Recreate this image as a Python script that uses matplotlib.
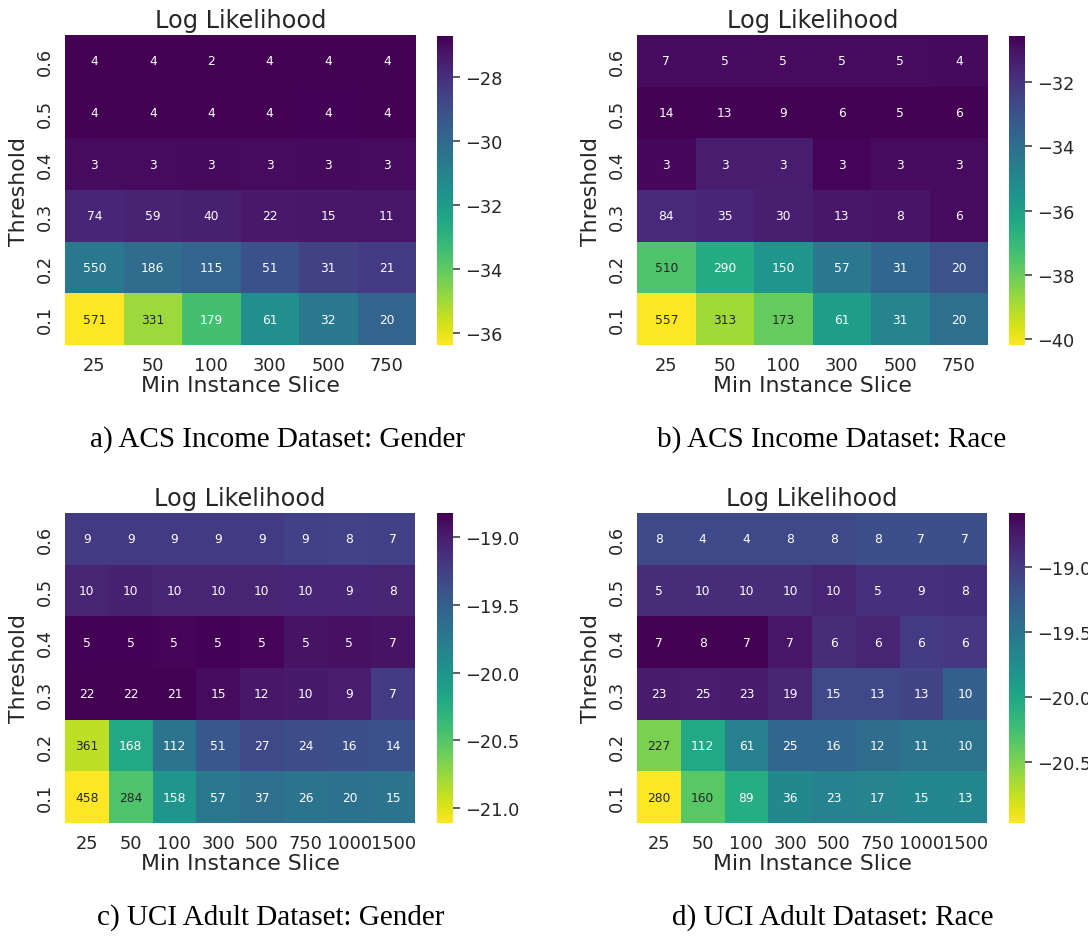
import numpy as np
import seaborn as sns
from matplotlib import pyplot as plt

THRESH = ["0.6", "0.5", "0.4", "0.3", "0.2", "0.1"]
SLICE_ACS = ["25", "50", "100", "300", "500", "750"]
SLICE_UCI = ["25", "50", "100", "300", "500", "750", "1000", "1500"]

# log likelihood (colour) and number of slices (annotation), rows from 0.6 down to 0.1
ll_acs_gender = [
    [-26.72, -26.72, -26.74, -26.72, -26.73, -26.72],
    [-26.75, -26.74, -26.75, -26.74, -26.76, -26.75],
    [-27.00, -27.00, -26.98, -27.00, -26.95, -27.00],
    [-27.75, -27.65, -27.55, -27.35, -27.30, -27.25],
    [-30.60, -30.10, -29.80, -29.10, -28.60, -28.35],
    [-36.37, -34.90, -33.50, -31.50, -30.60, -29.80],
]
n_acs_gender = [
    [4, 4, 2, 4, 4, 4],
    [4, 4, 4, 4, 4, 4],
    [3, 3, 3, 3, 3, 3],
    [74, 59, 40, 22, 15, 11],
    [550, 186, 115, 51, 31, 21],
    [571, 331, 179, 61, 32, 20],
]

ll_acs_race = [
    [-30.85, -30.85, -30.85, -30.85, -30.85, -30.80],
    [-30.56, -30.57, -30.57, -30.56, -30.57, -30.58],
    [-30.75, -31.30, -31.30, -30.65, -30.85, -30.85],
    [-31.65, -31.55, -31.35, -31.15, -31.05, -30.85],
    [-37.50, -36.50, -35.60, -34.40, -33.70, -33.00],
    [-40.19, -38.80, -37.90, -35.90, -34.90, -34.00],
]
n_acs_race = [
    [7, 5, 5, 5, 5, 4],
    [14, 13, 9, 6, 5, 6],
    [3, 3, 3, 3, 3, 3],
    [84, 35, 30, 13, 8, 6],
    [510, 290, 150, 57, 31, 20],
    [557, 313, 173, 61, 31, 20],
]

ll_uci_gender = [
    [-19.21, -19.21, -19.21, -19.21, -19.21, -19.25, -19.27, -19.25],
    [-19.05, -19.03, -19.05, -19.05, -19.05, -19.07, -19.07, -19.05],
    [-18.83, -18.83, -18.84, -18.83, -18.84, -18.93, -18.91, -18.93],
    [-18.82, -18.82, -18.82, -18.89, -18.96, -18.98, -19.00, -19.21],
    [-20.88, -20.19, -19.69, -19.44, -19.32, -19.35, -19.37, -19.39],
    [-21.11, -20.47, -20.01, -19.74, -19.65, -19.69, -19.67, -19.69],
]
n_uci_gender = [
    [9, 9, 9, 9, 9, 9, 8, 7],
    [10, 10, 10, 10, 10, 10, 9, 8],
    [5, 5, 5, 5, 5, 5, 5, 7],
    [22, 22, 21, 15, 12, 10, 9, 7],
    [361, 168, 112, 51, 27, 24, 16, 14],
    [458, 284, 158, 57, 37, 26, 20, 15],
]

ll_uci_race = [
    [-19.10, -19.10, -19.10, -19.10, -19.10, -19.15, -19.15, -19.15],
    [-18.87, -18.87, -18.87, -18.87, -18.82, -18.91, -18.91, -18.89],
    [-18.58, -18.58, -18.58, -18.72, -18.87, -18.82, -18.99, -18.96],
    [-18.75, -18.77, -18.75, -18.82, -19.10, -19.10, -19.06, -19.30],
    [-20.49, -20.01, -19.61, -19.37, -19.37, -19.42, -19.49, -19.49],
    [-20.97, -20.35, -20.06, -19.70, -19.63, -19.66, -19.68, -19.68],
]
n_uci_race = [
    [8, 4, 4, 8, 8, 8, 7, 7],
    [5, 10, 10, 10, 10, 5, 9, 8],
    [7, 8, 7, 7, 6, 6, 6, 6],
    [23, 25, 23, 19, 15, 13, 13, 10],
    [227, 112, 61, 25, 16, 12, 11, 10],
    [280, 160, 89, 36, 23, 17, 15, 13],
]

CAPTIONS = [
    "a) ACS Income Dataset: Gender",
    "b) ACS Income Dataset: Race",
    "c) UCI Adult Dataset: Gender",
    "d) UCI Adult Dataset: Race",
]

sns.set_theme(style="white")
plt.rcParams['font.family'] = ['DejaVu Sans']
W, H = 1088, 937
fig = plt.figure(figsize=(W / 100, H / 100), dpi=100)

def box(x0, y0, x1, y1):
    return [x0 / W, 1 - y1 / H, (x1 - x0) / W, (y1 - y0) / H]

panels = [
    (ll_acs_gender, n_acs_gender, SLICE_ACS, (65, 36, 416, 346), (437, 37, 453, 346), (277, 440)),
    (ll_acs_race, n_acs_race, SLICE_ACS, (637, 36, 988, 346), (1009, 37, 1025, 346), (832, 440)),
    (ll_uci_gender, n_uci_gender, SLICE_UCI, (65, 514, 415, 824), (437, 514, 453, 824), (271, 918)),
    (ll_uci_race, n_uci_race, SLICE_UCI, (637, 514, 987, 824), (1009, 514, 1025, 824), (833, 918)),
]

for (ll, n, cols, hb, cb, cap), caption in zip(panels, CAPTIONS):
    ax = fig.add_axes(box(*hb))
    cax = fig.add_axes(box(*cb))
    sns.heatmap(np.array(ll), annot=np.array(n), fmt="d", cmap="viridis_r",
                ax=ax, cbar_ax=cax, xticklabels=cols, yticklabels=THRESH,
                annot_kws={"fontsize": 8.8})
    ax.set_title("Log Likelihood", fontsize=17.3, color="#262626", pad=6)
    ax.set_xlabel("Min Instance Slice", fontsize=15.8, color="#262626", labelpad=1)
    ax.set_ylabel("Threshold", fontsize=15.8, color="#262626", labelpad=5)
    ax.tick_params(axis="both", left=False, bottom=False, length=0,
                   labelsize=12.8, labelcolor="#262626", pad=8)
    ax.tick_params(axis="y", pad=8)
    cax.tick_params(axis="y", which="major", right=True, length=5, width=1.2,
                    color="#444444", labelsize=12.8, labelcolor="#262626",
                    pad=3.5, direction="out")
    for s in cax.spines.values():
        s.set_visible(False)
    fig.text(cap[0] / W, 1 - cap[1] / H, caption, ha="center", va="center",
             fontsize=21, family="Liberation Serif", color="black")

fig.savefig("out.png", dpi=100)
